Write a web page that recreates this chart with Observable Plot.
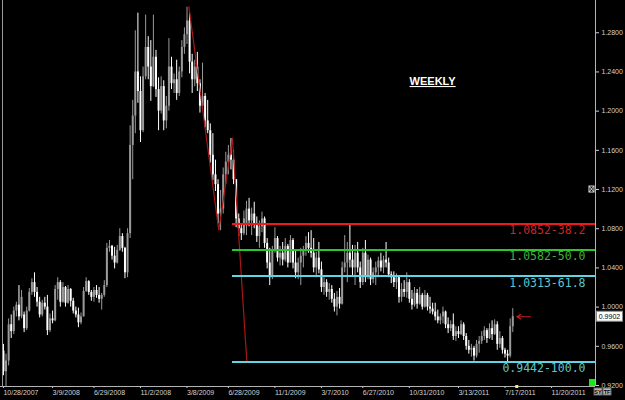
<!DOCTYPE html>
<html><head><meta charset="utf-8">
<script src="https://cdn.jsdelivr.net/npm/d3@7"></script>
<script src="https://cdn.jsdelivr.net/npm/@observablehq/plot@0.6"></script>
<style>html,body{margin:0;padding:0;background:#000;overflow:hidden;}</style>
</head><body><div id="chart"></div>
<script>
// ---- data ----
const startWeek = "2007-10-28";
const opens = [.955,.934,.945,.982,.975,.996,1.002,.990,.992,.978,
.996,1.015,1.025,1.015,1.005,.992,1.004,1.000,.976,.988,
.986,1.018,1.025,1.005,1.020,1.004,1.018,1.006,.996,.992,
.984,.990,1.016,1.026,1.015,1.010,1.017,1.012,1.008,1.012,
1.022,1.060,1.062,1.052,1.045,1.058,1.072,1.060,1.035,1.075,
1.165,1.195,1.240,1.220,1.180,1.235,1.265,1.245,1.225,1.255,
1.222,1.200,1.225,1.190,1.205,1.245,1.228,1.232,1.218,1.240,
1.265,1.278,1.292,1.250,1.232,1.245,1.228,1.205,1.215,1.190,
1.180,1.155,1.135,1.125,1.095,1.100,1.135,1.148,1.155,1.150,
1.130,1.090,1.080,1.075,1.085,1.100,1.088,1.095,1.085,1.072,
1.082,1.090,1.065,1.045,1.030,1.058,1.070,1.050,1.055,1.048,
1.062,1.045,1.068,1.045,1.035,1.045,1.052,1.058,1.065,1.060,
1.055,1.040,1.050,1.038,1.020,1.025,1.015,1.018,1.008,1.000,
1.010,1.003,1.040,1.045,1.055,1.048,1.040,1.055,1.040,1.025,
1.055,1.030,1.048,1.028,1.035,1.040,1.047,1.040,1.048,1.045,
1.033,1.030,1.025,1.030,1.010,1.018,1.015,1.025,1.008,1.002,
1.014,1.003,1.012,1.000,1.012,1.000,.998,.995,.990,.986,
.990,.995,.982,.978,.982,.970,.975,.972,.982,.970,
.960,.956,.958,.950,.962,.965,.970,.976,.968,.978,
.972,.982,.962,.968,.956,.952,.950,.980];
const highs = [.962,.952,.988,.992,1.000,1.005,1.022,1.017,.995,1.000,
1.019,1.029,1.035,1.020,1.010,1.007,1.010,1.012,.993,.996,
1.022,1.030,1.027,1.025,1.021,1.022,1.019,1.009,1.000,.999,
.994,1.020,1.030,1.027,1.017,1.020,1.022,1.020,1.014,1.027,
1.065,1.068,1.063,1.061,1.063,1.080,1.075,1.061,1.080,1.185,
1.211,1.282,1.300,1.235,1.245,1.298,1.276,1.272,1.298,1.262,
1.234,1.235,1.231,1.215,1.274,1.255,1.238,1.252,1.245,1.272,
1.285,1.306,1.300,1.258,1.252,1.260,1.232,1.249,1.218,1.211,
1.187,1.177,1.150,1.130,1.119,1.142,1.158,1.165,1.172,1.160,
1.130,1.095,1.085,1.098,1.108,1.111,1.101,1.107,1.092,1.088,
1.097,1.092,1.070,1.060,1.062,1.081,1.072,1.062,1.066,1.070,
1.064,1.073,1.070,1.058,1.050,1.060,1.062,1.072,1.076,1.078,
1.070,1.056,1.066,1.046,1.030,1.028,1.024,1.022,1.014,1.016,
1.019,1.046,1.073,1.066,1.085,1.063,1.063,1.066,1.046,1.060,
1.068,1.053,1.050,1.040,1.046,1.051,1.055,1.052,1.066,1.050,
1.036,1.036,1.034,1.031,1.024,1.027,1.035,1.028,1.017,1.020,
1.018,1.020,1.014,1.017,1.014,1.010,1.004,1.004,.997,.993,
1.000,.996,.989,.986,.993,.980,.980,.986,.984,.973,
.966,.962,.960,.966,.970,.975,.980,.978,.983,.986,
.987,.985,.975,.970,.958,.956,.988,.9985];
const lows = [.930,.915,.940,.968,.972,.990,.986,.988,.974,.976,
.995,1.012,1.010,1.000,.989,.990,.997,.971,.974,.983,
.985,1.007,1.000,1.004,1.000,1.003,1.000,.993,.989,.979,
.982,.990,1.015,1.012,1.006,1.005,1.009,1.004,.997,1.010,
1.020,1.056,1.048,1.039,1.044,1.057,1.056,1.029,1.030,1.070,
1.130,1.177,1.208,1.168,1.178,1.232,1.232,1.210,1.224,1.214,
1.180,1.197,1.180,1.182,1.200,1.222,1.218,1.211,1.215,1.234,
1.258,1.268,1.238,1.218,1.225,1.220,1.198,1.200,1.183,1.177,
1.147,1.129,1.118,1.085,1.078,1.095,1.125,1.135,1.140,1.125,
1.081,1.072,1.068,1.073,1.073,1.082,1.073,1.080,1.066,1.060,
1.076,1.060,1.039,1.022,1.028,1.055,1.046,1.042,1.042,1.046,
1.040,1.045,1.039,1.029,1.028,1.022,1.040,1.052,1.055,1.050,
1.035,1.030,1.034,1.015,1.012,1.010,1.007,1.004,.995,.991,
.998,1.002,1.035,1.025,1.040,1.032,1.022,1.035,1.019,1.022,
1.025,1.028,1.022,1.024,1.022,1.030,1.036,1.034,1.040,1.030,
1.024,1.020,1.018,1.004,1.005,1.010,1.009,1.004,.997,1.000,
.998,1.002,.997,.999,.996,.993,.992,.986,.983,.982,
.983,.978,.973,.975,.966,.965,.968,.971,.966,.956,
.952,.949,.945,.948,.953,.962,.966,.963,.967,.966,
.971,.956,.958,.952,.948,.9442,.948,.974];
const closes = [.934,.945,.982,.975,.996,1.002,.990,1.010,.978,.996,
1.015,1.025,1.015,1.005,.992,1.004,1.000,.976,.988,.986,
1.018,1.025,1.005,1.020,1.004,1.018,1.006,.996,.992,.984,
.990,1.016,1.026,1.015,1.010,1.017,1.012,1.008,1.012,1.022,
1.060,1.062,1.052,1.045,1.058,1.072,1.060,1.035,1.075,1.165,
1.195,1.240,1.220,1.180,1.235,1.265,1.245,1.225,1.255,1.222,
1.200,1.225,1.190,1.205,1.245,1.228,1.232,1.218,1.240,1.265,
1.278,1.292,1.250,1.232,1.245,1.228,1.205,1.215,1.190,1.180,
1.155,1.135,1.125,1.095,1.100,1.135,1.148,1.155,1.150,1.130,
1.090,1.080,1.075,1.090,1.100,1.088,1.095,1.085,1.072,1.082,
1.090,1.065,1.045,1.030,1.058,1.070,1.050,1.055,1.048,1.062,
1.045,1.068,1.045,1.035,1.045,1.052,1.058,1.065,1.060,1.055,
1.040,1.050,1.038,1.020,1.025,1.015,1.018,1.008,1.000,1.010,
1.003,1.040,1.045,1.055,1.048,1.040,1.055,1.040,1.025,1.055,
1.030,1.048,1.028,1.035,1.040,1.047,1.040,1.048,1.045,1.033,
1.030,1.025,1.030,1.010,1.018,1.015,1.025,1.008,1.002,1.014,
1.003,1.012,1.000,1.012,1.000,.998,.995,.990,.986,.990,
.995,.982,.978,.982,.970,.975,.972,.982,.970,.960,
.956,.958,.950,.962,.965,.970,.976,.968,.978,.972,
.982,.962,.968,.956,.952,.950,.980,.9902];

const xTickDates = ["2007-10-28","2008-03-09","2008-06-29","2008-11-02","2009-03-08","2009-06-28",
  "2009-11-01","2010-03-07","2010-06-27","2010-10-31","2011-03-13","2011-07-17","2011-11-20"];
const yTicks = [0.92, 0.96, 1.00, 1.04, 1.08, 1.12, 1.16, 1.20, 1.24, 1.28];

const fibLevels = [1.0852, 1.0582, 1.0313, 0.9442];
const fibPercents = ["38.2", "50.0", "61.8", "100.0"];
const fibStartDate = "2009-07-09";

const zigDates = ["2009-03-13", "2009-06-02", "2009-07-09", "2009-08-17"];
const zigValues = [1.3065, 1.0785, 1.1722, 0.9442];

const titleText = "WEEKLY";
const titleAt = {date: "2011-01-02", value: 1.2303};
const arrowFrom = "2011-09-24", arrowTo = "2011-08-18";

// ---- view ----
const W = 625, H = 400, MR = 30, MB = 14;
const xDomain = ["2007-10-20", "2012-03-18"];
const yDomain = [0.919, 1.3129];
const UP = "#9a9a9a", DOWN = "#ffffff";
const fibLine = {"38.2": "#f01818", "50.0": "#28c828", "61.8": "#60d4e2", "100.0": "#60d4e2"};
const fibText = {"38.2": "#c82626", "50.0": "#3cb43c", "61.8": "#5cc6cc", "100.0": "#5cc6cc"};

const dates = closes.map((_, i) => d3.utcDay.offset(new Date(startWeek), 7 * i));
const bars = dates.map((d, i) => ({date: d, o: opens[i], h: highs[i], l: lows[i], c: closes[i]}));
const fibs = fibLevels.map((v, i) => ({v, p: fibPercents[i], x1: new Date(fibStartDate), x2: new Date(xDomain[1])}));
const zig = zigDates.map((d, i) => ({date: new Date(d), v: zigValues[i]}));
const last = closes[closes.length - 1];
const col = d => d.c >= d.o ? UP : DOWN;

const chart = Plot.plot({
  width: W, height: H,
  marginLeft: 0, marginRight: MR, marginTop: 0, marginBottom: MB,
  style: {background: "#000", color: "#d2d2d2", fontFamily: "Liberation Sans, Arial, sans-serif", fontSize: "7px", overflow: "visible"},
  x: {type: "utc", domain: xDomain.map(d => new Date(d)), label: null},
  y: {domain: yDomain, label: null},
  marks: [
    Plot.ruleX(bars, {x: "date", y1: "l", y2: "h", stroke: col, strokeWidth: 1, clip: true}),
    Plot.ruleX(bars, {x: "date", y1: "o", y2: "c", stroke: col, strokeWidth: 2, clip: true}),
    Plot.line(zig, {x: "date", y: "v", stroke: "#a81818", strokeWidth: 1.2, clip: true}),
    Plot.ruleY(fibs, {y: "v", x1: "x1", x2: "x2", stroke: d => fibLine[d.p], strokeWidth: 2, shapeRendering: "crispEdges"}),
    Plot.text(fibs, {y: "v", text: d => `${d.v.toFixed(4)}-${d.p}`, frameAnchor: "right", textAnchor: "end",
      lineAnchor: "top", dx: -10, dy: 2, fill: d => fibText[d.p], fontFamily: "DejaVu Sans Mono", fontSize: 11.5}),
    Plot.arrow([{x1: new Date(arrowFrom), x2: new Date(arrowTo), y: last}],
      {x1: "x1", x2: "x2", y1: "y", y2: "y", stroke: "#c42020", strokeWidth: 1.2, headLength: 6}),
    Plot.text([titleAt], {x: d => new Date(d.date), y: "value", text: () => titleText, fill: "#fff",
      fontWeight: "bold", fontSize: 11, fontFamily: "Liberation Sans, Arial, sans-serif"}),
    Plot.axisX(xTickDates.map(d => new Date(d)), {tickFormat: d3.utcFormat("%-m/%-d/%Y"), textAnchor: "start",
      tickSize: 2, tickPadding: 2, fontSize: 7, label: null}),
    Plot.axisY(yTicks, {anchor: "right", tickFormat: d3.format(".4f"), tickSize: 3, tickPadding: 3, fontSize: 7, label: null})
  ]
});
document.getElementById("chart").appendChild(chart);

// ---- decorations ----
const svg = d3.select(chart);
svg.selectAll("text").filter(function() { return this.textContent === titleText; })
  .style("text-decoration", "underline");
const xs = chart.scale("x"), ys = chart.scale("y");
const fx = W - MR, fy = H - MB;
const g = svg.append("g");
g.append("line").attr("x1", fx + 0.5).attr("x2", fx + 0.5).attr("y1", 0).attr("y2", fy).attr("stroke", "#b4b4b4");
g.append("line").attr("x1", 0).attr("x2", fx).attr("y1", fy + 0.5).attr("y2", fy + 0.5).attr("stroke", "#b4b4b4");
g.append("line").attr("x1", 2.5).attr("x2", 2.5).attr("y1", 0).attr("y2", fy).attr("stroke", "#9a9a9a");
// last price box
const py = ys.apply(last);
g.append("rect").attr("x", fx + 1.5).attr("y", py - 5).attr("width", 26).attr("height", 10).attr("fill", "#fff").attr("stroke", "#888");
g.append("text").attr("x", fx + 14.5).attr("y", py + 2.5).attr("text-anchor", "middle").attr("fill", "#000")
  .attr("font-size", 7).attr("font-family", "Liberation Sans, Arial, sans-serif").text(last.toFixed(4));
// green square and markers
g.append("rect").attr("x", fx - 6).attr("y", fy - 7).attr("width", 6).attr("height", 7).attr("fill", "#18e818");
g.append("rect").attr("x", xs.apply(dates[dates.length - 1]) + 3).attr("y", fy - 1).attr("width", 3).attr("height", 3).attr("fill", "#f0f070");
const iy = ys.apply(1.12);
g.append("rect").attr("x", fx - 6).attr("y", iy - 3).attr("width", 5).attr("height", 6).attr("fill", "none").attr("stroke", "#ddd");
g.append("path").attr("d", `M${fx - 6},${iy - 3}L${fx - 1},${iy + 3}M${fx - 1},${iy - 3}L${fx - 6},${iy + 3}`).attr("stroke", "#ddd");
// SY / TF buttons
[["SY", fx - 1], ["TF", fx + 8]].forEach(([t, bx]) => {
  g.append("rect").attr("x", bx).attr("y", fy + 2).attr("width", 8).attr("height", 7).attr("fill", "#b8b8b8").attr("stroke", "#666");
  g.append("text").attr("x", bx + 4).attr("y", fy + 8).attr("text-anchor", "middle").attr("fill", "#000")
    .attr("font-size", 5.5).attr("font-weight", "bold").attr("font-family", "Liberation Sans, Arial").text(t);
});
</script></body></html>
